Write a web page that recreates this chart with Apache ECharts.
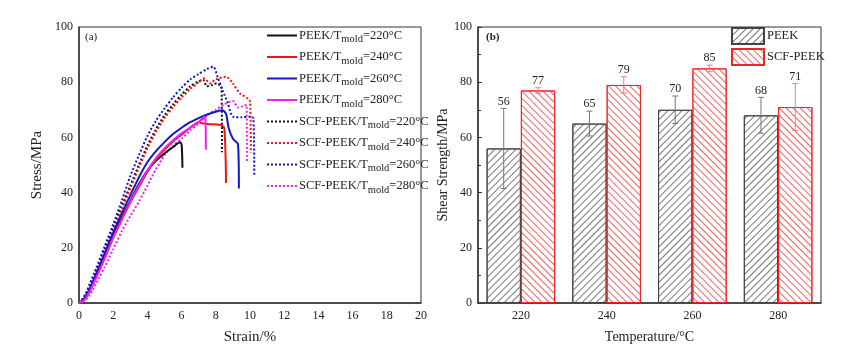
<!DOCTYPE html>
<html lang="en">
<head>
<meta charset="UTF-8">
<title>PEEK stress-strain and shear strength</title>
<style>
  body { margin: 0; background: #fff; }
  #main { width: 850px; height: 357px; }
</style>
</head>
<body>
<div id="main"></div>
<script src="https://cdn.jsdelivr.net/npm/echarts@6.0.0/dist/echarts.min.js"></script>
<script>
// ---- (a) stress-strain curves, [strain %, stress MPa] ----
var peek220 = [[0,0],[0.3,1.5],[0.6,4.5],[1,10],[1.5,17],[2,24.5],[2.5,31],[3,37],[3.5,43],[4,48],[4.5,51.5],[5,54.2],[5.5,56.5],[5.9,58.2],[6.0,57.5],[6.05,49]];
var peek240 = [[0,0],[0.3,1.2],[0.6,4],[1,9.5],[1.5,16.5],[2,24],[2.5,30.5],[3,36.5],[3.5,42],[4,47.5],[4.5,52],[5,55.5],[5.5,58.5],[6,61],[6.5,63.5],[7.0,65.5],[7.3,65],[7.6,64.8],[8.0,64.7],[8.3,64.5],[8.5,63.2],[8.6,43.5]];
var peek260 = [[0,0],[0.3,1.5],[0.6,4.8],[1,10.5],[1.5,18],[2,25.5],[2.5,32.5],[3,39],[3.5,45.5],[4,51],[4.5,55],[5,58.3],[5.5,61.2],[6,63.5],[6.5,65.5],[7,67],[7.5,68.3],[8,69.3],[8.4,69.8],[8.6,68.5],[8.75,63.5],[9.0,59.5],[9.3,57.5],[9.35,41.5]];
var peek280 = [[0,0],[0.3,1],[0.6,3.8],[1,9],[1.5,16],[2,23.5],[2.5,30],[3,36.5],[3.5,42.5],[4,48],[4.5,52.5],[5,56],[5.5,59],[6,61.5],[6.5,63.5],[7,65.5],[7.35,67.5],[7.4,66],[7.42,55.5]];
var scf220 = [[0,0],[0.2,1.2],[0.4,3],[0.7,7],[1,11.5],[1.5,19.5],[2,27],[2.5,35],[3,42.5],[3.5,50],[4,57],[4.5,63],[5,68],[5.5,72],[6,75.5],[6.5,78.5],[7,80.3],[7.27,80.8],[7.47,78.5],[7.8,79],[8.05,79.6],[8.34,77.8],[8.36,54.6]];
var scf240 = [[0,0],[0.2,1],[0.4,2.7],[0.7,6.5],[1,11],[1.5,18.5],[2,26],[2.5,34],[3,41.5],[3.5,49],[4,56],[4.5,62],[5,67],[5.5,71],[6,74.5],[6.5,77.5],[7,80],[7.3,81.4],[7.66,79.6],[8.0,81],[8.6,82],[9.0,79.5],[9.4,76],[10.0,73],[10.05,54.5]];
var scf260 = [[0,0],[0.2,1.5],[0.4,3.5],[0.7,8],[1,12.5],[1.5,20.5],[2,28.5],[2.5,37],[3,46],[3.5,53.5],[4,60.5],[4.5,66],[5,70.5],[5.5,74.5],[6,78],[6.5,81],[7,83],[7.5,84.8],[7.85,85.6],[8.1,82],[8.4,77],[8.7,72.5],[9.0,67.5],[9.5,67.3],[10.0,67.5],[10.2,67],[10.25,46]];
var scf280 = [[0,0],[0.3,0.8],[0.6,2.5],[0.8,4.7],[1.2,9.5],[1.5,13],[2,19.5],[2.5,26],[3,31.5],[3.5,36.7],[4,42.5],[4.5,48.5],[5,53.5],[5.5,57],[6,59.5],[6.5,62.5],[7,65],[7.5,68],[8,70],[8.5,72],[9.0,73.2],[9.3,70.8],[9.6,71.3],[9.8,71.8],[9.82,51]];

// ---- (b) shear strength ----
var temps = ['220', '240', '260', '280'];
var peekShear = [56, 65, 70, 68];
var peekShearErr = [14.5, 4.5, 5, 6.5];
var scfShear = [77, 79, 85, 71];
var scfShearErr = [1, 3, 1.2, 8.5];

var serif = '"Liberation Serif", "Times New Roman", serif';
var axisCol = '#333';

function curve(name, data, color, dotted) {
    return {
        name: name, type: 'line', xAxisIndex: 0, yAxisIndex: 0,
        data: data, symbol: 'none', smooth: 0.25,
        lineStyle: { color: color, width: 2, type: dotted ? 'dotted' : 'solid' },
        itemStyle: { color: color },
        z: dotted ? 3 : 4
    };
}

function errSeries(name, vals, errs, side, color) {
    var data = vals.map(function (v, i) { return [i, v, errs[i]]; });
    return {
        name: name + ' err', type: 'custom', xAxisIndex: 1, yAxisIndex: 1, z: 5,
        data: data,
        encode: { x: 0, y: 1 },
        renderItem: function (params, api) {
            var i = api.value(0), v = api.value(1), e = api.value(2);
            var c = api.coord([i, v]);
            var cw = api.size([1, 0])[0];
            var x = c[0] + side * cw * 0.2;
            var hi = api.coord([i, v + e])[1];
            var lo = api.coord([i, v - e])[1];
            var ls = { stroke: color, lineWidth: 1 };
            return {
                type: 'group',
                children: [
                    { type: 'line', shape: { x1: x, y1: hi, x2: x, y2: lo }, style: ls },
                    { type: 'line', shape: { x1: x - 3, y1: hi, x2: x + 3, y2: hi }, style: ls },
                    { type: 'line', shape: { x1: x - 3, y1: lo, x2: x + 3, y2: lo }, style: ls },
                    { type: 'text', style: { text: String(v), x: x, y: hi - 1, align: 'center', verticalAlign: 'bottom',
                        fontFamily: serif, fontSize: 12, fill: '#222' } }
                ]
            };
        }
    };
}

var myChart = echarts.init(document.getElementById('main'));
var option = {
    backgroundColor: '#fff',
    animation: false,
    title: [
        { text: '(a)', left: 80, top: 27, textStyle: { fontFamily: serif, fontSize: 11, fontWeight: 'normal', color: '#222' } },
        { text: '(b)', left: 481, top: 27, textStyle: { fontFamily: serif, fontSize: 11, fontWeight: 'bold', color: '#222' } }
    ],
    legend: [
        {
            orient: 'vertical', left: 266, top: 29, padding: 0, itemWidth: 30, itemHeight: 14, itemGap: 5.5,
            data: ['PEEK/Tmold=220°C', 'PEEK/Tmold=240°C', 'PEEK/Tmold=260°C', 'PEEK/Tmold=280°C',
                   'SCF-PEEK/Tmold=220°C', 'SCF-PEEK/Tmold=240°C', 'SCF-PEEK/Tmold=260°C', 'SCF-PEEK/Tmold=280°C'],
            formatter: function (name) { return name.replace('mold', '{sub|mold}'); },
            itemStyle: { color: 'transparent', borderColor: 'transparent', borderWidth: 0 },
            textStyle: {
                fontFamily: serif, fontSize: 12.5, color: '#222', padding: [0, 0, 0, -3],
                rich: { sub: { fontFamily: serif, fontSize: 10.5, padding: [8, 0, 0, 0] } }
            }
        },
        {
            orient: 'vertical', left: 731, top: 27, padding: 0, itemWidth: 32, itemHeight: 16, itemGap: 3,
            icon: 'rect',
            data: ['PEEK', 'SCF-PEEK'],
            textStyle: { fontFamily: serif, fontSize: 12.5, color: '#222', padding: [0, 0, 0, -2] }
        }
    ],
    grid: [
        { left: 79, top: 27, width: 342, bottom: 54, show: true, borderColor: axisCol, borderWidth: 1, outerBoundsMode: 'none' },
        { left: 478, top: 27, right: 29, bottom: 54, show: true, borderColor: axisCol, borderWidth: 1, outerBoundsMode: 'none' }
    ],
    xAxis: [
        {
            gridIndex: 0, type: 'value', min: 0, max: 20, interval: 2,
            name: 'Strain/%', nameLocation: 'middle', nameGap: 27,
            nameTextStyle: { fontFamily: serif, fontSize: 15, color: '#222' },
            axisLine: { lineStyle: { color: axisCol, width: 1.5 } },
            axisTick: { show: false },
            splitLine: { show: false },
            axisLabel: { fontFamily: serif, fontSize: 12, color: '#222', margin: 7 }
        },
        {
            gridIndex: 1, type: 'category', data: temps,
            name: 'Temperature/°C', nameLocation: 'middle', nameGap: 27,
            nameTextStyle: { fontFamily: serif, fontSize: 14, color: '#222' },
            axisLine: { lineStyle: { color: axisCol, width: 1.5 } },
            axisTick: { show: false },
            axisLabel: { fontFamily: serif, fontSize: 12, color: '#222', margin: 7 }
        }
    ],
    yAxis: [
        {
            gridIndex: 0, type: 'value', min: 0, max: 100, interval: 20,
            name: 'Stress/MPa', nameLocation: 'middle', nameGap: 34,
            nameTextStyle: { fontFamily: serif, fontSize: 15, color: '#222' },
            axisLine: { show: true, lineStyle: { color: axisCol, width: 1.5 } },
            axisTick: { show: false },
            splitLine: { show: false },
            axisLabel: { fontFamily: serif, fontSize: 12, color: '#222', margin: 6 }
        },
        {
            gridIndex: 1, type: 'value', min: 0, max: 100, interval: 20,
            name: 'Shear Strength/MPa', nameLocation: 'middle', nameGap: 26,
            nameTextStyle: { fontFamily: serif, fontSize: 14, color: '#222' },
            axisLine: { show: true, lineStyle: { color: axisCol, width: 1.5 } },
            axisTick: { show: true, inside: true, length: 4, lineStyle: { color: axisCol } },
            minorTick: { show: true, splitNumber: 2, length: 3, lineStyle: { color: axisCol } },
            splitLine: { show: false },
            axisLabel: { fontFamily: serif, fontSize: 12, color: '#222', margin: 6 }
        }
    ],
    series: [
        curve('PEEK/Tmold=220°C', peek220, '#111111', false),
        curve('PEEK/Tmold=240°C', peek240, '#ee1515', false),
        curve('PEEK/Tmold=260°C', peek260, '#1515cc', false),
        curve('PEEK/Tmold=280°C', peek280, '#ee22ee', false),
        curve('SCF-PEEK/Tmold=220°C', scf220, '#111111', true),
        curve('SCF-PEEK/Tmold=240°C', scf240, '#ee1515', true),
        curve('SCF-PEEK/Tmold=260°C', scf260, '#1515cc', true),
        curve('SCF-PEEK/Tmold=280°C', scf280, '#ee22ee', true),
        {
            name: 'PEEK', type: 'bar', xAxisIndex: 1, yAxisIndex: 1, data: peekShear,
            barGap: '0%', barCategoryGap: '20%',
            itemStyle: {
                color: '#fff', borderColor: '#444', borderWidth: 1,
                decal: { symbol: 'rect', symbolSize: 1, dashArrayX: [1, 0], dashArrayY: [1, 4], rotation: -Math.PI / 4, color: '#777' }
            }
        },
        {
            name: 'SCF-PEEK', type: 'bar', xAxisIndex: 1, yAxisIndex: 1, data: scfShear,
            barGap: '0%', barCategoryGap: '20%',
            itemStyle: {
                color: '#fff', borderColor: '#e8262b', borderWidth: 1,
                decal: { symbol: 'rect', symbolSize: 1, dashArrayX: [1, 0], dashArrayY: [1, 4], rotation: Math.PI / 4, color: '#f06060' }
            }
        },
        errSeries('PEEK', peekShear, peekShearErr, -1, '#777'),
        errSeries('SCF-PEEK', scfShear, scfShearErr, 1, '#f08080')
    ]
};
myChart.setOption(option);
</script>
</body>
</html>
